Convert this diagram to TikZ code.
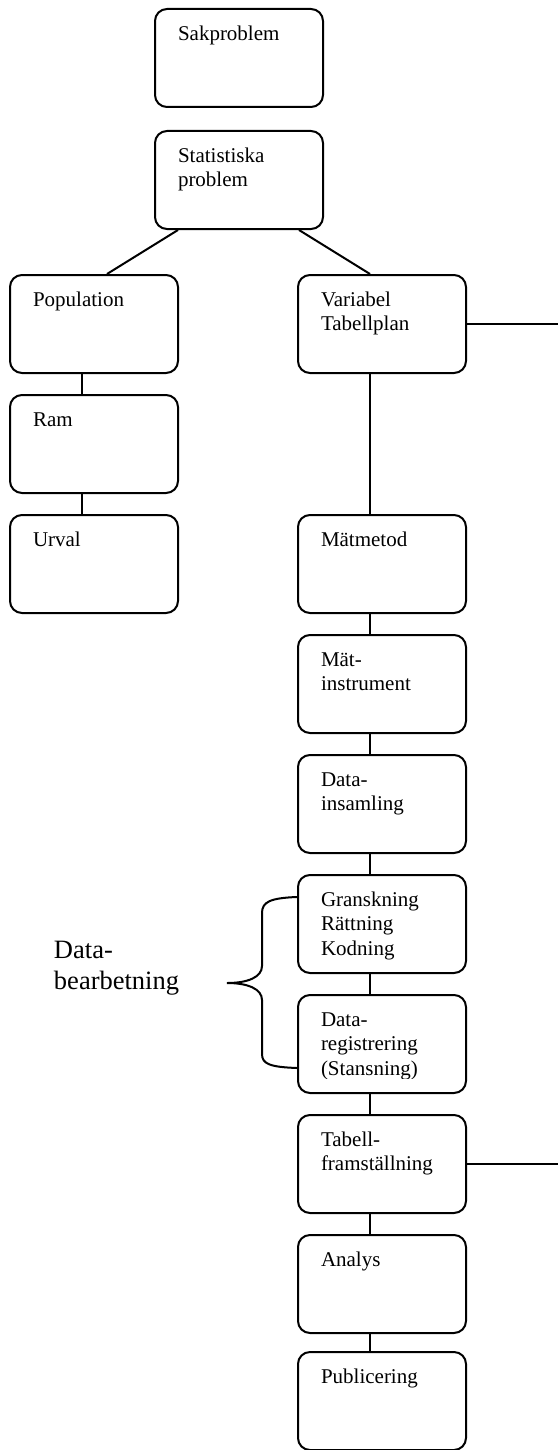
\documentclass[tikz,border=0pt]{standalone}
\usepackage{fontspec}
\setmainfont{Liberation Serif}
\usetikzlibrary{calc}

\newcommand{\boxtext}[1]{\parbox[t][35pt][t]{61pt}{\raggedright\strut #1}}

\begin{document}
\begin{tikzpicture}[x=0.5pt,y=-0.5pt,line width=1pt,
        stage/.style={draw,rounded corners=6pt,inner xsep=11.5pt,inner ysep=7pt,
            font=\fontsize{10.5}{12.25}\selectfont}]
        \useasboundingbox (0,0) rectangle (558,1450);
        \def\colL{94}
        \def\colR{382}
        \coordinate (edge) at (558,0);
        \node[stage] (sak) at (239,58) {\boxtext{Sakproblem}};
        \node[stage] (stat) at (239,180) {\boxtext{Statistiska\\problem}};
        \node[stage] (pop) at (\colL,324) {\boxtext{Population}};
        \node[stage] (ram) at (\colL,444) {\boxtext{Ram}};
        \node[stage] (urval) at (\colL,564) {\boxtext{Urval}};
        \node[stage] (var) at (\colR,324) {\boxtext{Variabel\\Tabellplan}};
        \node[stage] (matmetod) at (\colR,564) {\boxtext{Mätmetod}};
        \node[stage] (matinstr) at (\colR,684) {\boxtext{Mät-\\instrument}};
        \node[stage] (insaml) at (\colR,804) {\boxtext{Data-\\insamling}};
        \node[stage] (gransk) at (\colR,924) {\boxtext{Granskning\\Rättning\\Kodning}};
        \node[stage] (datareg) at (\colR,1044) {\boxtext{}};
        \begin{scope}
            \clip (datareg.north west) rectangle ([yshift=8pt]datareg.south east);
            \node[stage,draw=none] (dataregtxt) at (datareg) {\boxtext{Data-\\registrering\\(Stansning)}};
        \end{scope}
        \node[stage] (tabell) at (\colR,1164) {\boxtext{Tabell-\\framställning}};
        \node[stage] (analys) at (\colR,1284) {\boxtext{Analys}};
        \node[stage] (publ) at (\colR,1401) {\boxtext{Publicering}};
        \draw ([xshift=12pt]stat.south west) -- ([xshift=6.5pt]pop.north);
        \draw ([xshift=-12.5pt]stat.south east) -- ([xshift=-6pt]var.north);
        \foreach \a/\b in {pop/ram,ram/urval,var/matmetod,matmetod/matinstr,matinstr/insaml,
            insaml/gransk,gransk/datareg,datareg/tabell,tabell/analys,analys/publ}
        {
        \draw ([xshift=-6pt]\a.south) -- ([xshift=-6pt]\b.north);
        }
        \draw (var.east) -- (var.east -| edge);
        \draw (tabell.east) -- (tabell.east -| edge);
        \coordinate (brtop) at ($(gransk.north west)+(0,23)$);
        \coordinate (brbot) at ($(datareg.south west)+(0,-26)$);
        \coordinate (brtip) at (227,983);
        \draw (brtop) .. controls (270,898) and (262,902) .. (262,913) -- (262,966)
            .. controls (262,977) and (248,983) .. (brtip)
            .. controls (248,983) and (262,989) .. (262,1000) -- (262,1054)
            .. controls (262,1064) and (270,1067) .. (brbot);
        \node[anchor=north west,inner sep=0pt,align=left,font=\fontsize{13.25}{15.5}\selectfont]
            (bearb) at (53,940) {Data-\\bearbetning};
    \end{tikzpicture}
\end{document}
